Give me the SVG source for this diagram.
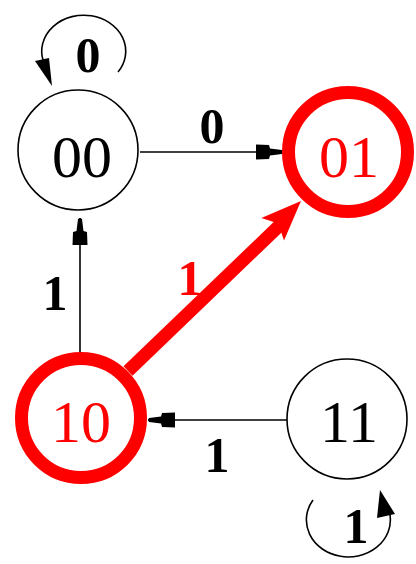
<svg xmlns="http://www.w3.org/2000/svg" width="416" height="564" viewBox="0 0 416 564">
<style>
.node{fill:#fff;stroke:#000;stroke-width:1.6}
.hot{fill:#fff;stroke:#ff0000;stroke-width:13}
.nl{font-family:"Liberation Serif","Times New Roman",serif;font-size:60px;text-anchor:middle;fill:#000}
.el{font-family:"Liberation Serif","Times New Roman",serif;font-size:50px;font-weight:bold;text-anchor:middle;fill:#000}
.red{fill:#ff0000}
.edge{fill:none;stroke:#000;stroke-width:1.6}
.head{fill:#000}
</style>
<defs>
<marker id="ah" markerUnits="userSpaceOnUse" markerWidth="28" markerHeight="16" viewBox="0 -8 28 16" refX="27" refY="0" orient="auto">
<path d="M27,0 L26,-2 L14,-3.5 L13,-7 L0,-7.5 L0,7.5 L13,7 L14,3.5 L26,2 Z" fill="#000"/>
</marker>
</defs>
<g id="connectors">
<path class="edge" d="M140,152 L283,152" marker-end="url(#ah)"/>
<path class="edge" d="M80,352 L80,218" marker-end="url(#ah)"/>
<path class="edge" d="M287,420 L148,420" marker-end="url(#ah)"/>
<path class="edge" d="M118,72 A42,36 0 1 0 43,60"/>
<polygon class="head" points="35,61 49,58 52,86"/>
<path class="edge" d="M313,500 A42,37 0 1 0 390,515"/>
<polygon class="head" points="380,490 377,518 395,514"/>
<path d="M128,371 L280,225" fill="none" stroke="#ff0000" stroke-width="13"/>
<polygon points="301,201 284,240.5 278.3,223.6 261.4,217.9" fill="#ff0000"/>
<text class="el" x="212" y="143">0</text>
<text class="el" x="88" y="72">0</text>
<text class="el" x="55" y="310">1</text>
<text class="el" x="217" y="472">1</text>
<text class="el red" x="190" y="295">1</text>
<text class="el" x="356" y="543">1</text>
</g>
<g id="n00"><circle class="node" cx="78" cy="150" r="60"/><text class="nl" x="82" y="177">00</text></g>
<g id="n01"><circle class="hot" cx="348" cy="152" r="59.5"/><text class="nl red" x="349" y="177">01</text></g>
<g id="n10"><circle class="hot" cx="81" cy="418" r="59.5"/><text class="nl red" x="81" y="442">10</text></g>
<g id="n11"><circle class="node" cx="347" cy="419" r="60"/><text class="nl" x="349" y="442">11</text></g>
</svg>
